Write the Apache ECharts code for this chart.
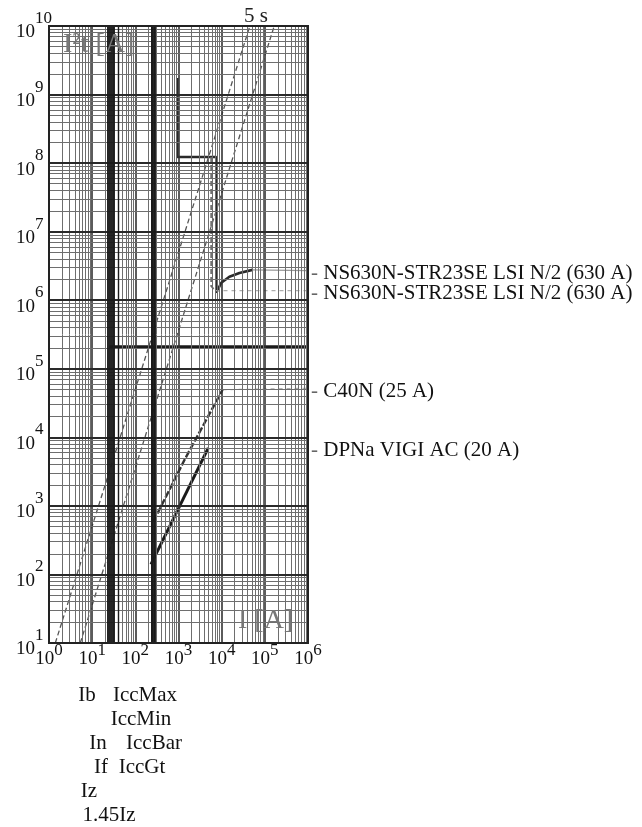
<!DOCTYPE html>
<html><head><meta charset="utf-8">
<script src="https://cdn.jsdelivr.net/npm/echarts@6/dist/echarts.min.js"></script>
<style>html,body{margin:0;padding:0;background:#fff}#c{width:642px;height:827px}</style>
</head><body><div id="c"></div>
<script>
// ---- axis ranges ----
const xMin = 1, xMax = 1e6, yMin = 10, yMax = 1e10;
// ---- constant-time I²t lines (5 s and fast line) ----
const line5sI = [1.4, 45000];
const line5sE = [10, 1e10];
const lineFastI = [5.3, 165000];
const lineFastE = [10, 1e10];
// ---- vertical reference currents ----
const refNamesLow = ['Ib', 'In', 'If', 'Iz', '1.45Iz'];
const refValsLow = [23, 25, 31, 28, 40.6];
const refNamesHigh = ['IccMax', 'IccMin', 'IccBar', 'IccGt'];
const refValsHigh = [262, 235, 275, 245];
// ---- cable k²S² ----
const cableI = [25, 1e6];
const cableE = [2.1e5, 2.1e5];
// ---- NS630N curve 1 ----
const ns1I = [940, 940, 7500, 7500, 9800, 15100, 25800, 51500, 1e6];
const ns1E = [1.74e9, 1.23e8, 1.23e8, 1.29e6, 1.8e6, 2.2e6, 2.5e6, 2.77e6, 2.7e6];
// ---- NS630N curve 2 ----
const ns2I = [5700, 5700, 7200, 1e6];
const ns2E = [1.23e8, 1.6e6, 1.38e6, 1.38e6];
// ---- C40N (25 A) ----
const c40I = [262, 1380, 10500, 1e6];
const c40E = [590, 4700, 49500, 52000];
// ---- DPNa VIGI AC (20 A) ----
const dpI = [230, 4900];
const dpE = [140, 7000];
// ---- names ----
const curveNames = ['NS630N-STR23SE LSI N/2 (630 A)', 'NS630N-STR23SE LSI N/2 (630 A)', 'C40N (25 A)', 'DPNa VIGI AC (20 A)'];
const bottomText = ['Ib', 'IccMax', 'IccMin', 'In', 'IccBar', 'If', 'IccGt', 'Iz', '1.45Iz'];
const bottomX = [87, 145, 141, 98, 154, 101, 142, 89, 109];
const bottomY = [695, 695, 719, 743, 743, 767, 767, 791, 815];

const FONT = '"Liberation Serif", "Times New Roman", serif';
function zip(a, b) { return a.map((v, i) => [v, b[i]]); }
function supLabel(v) { const e = Math.round(Math.log10(v)); return '{b|10}{e|' + e + '}'; }

const vGrid = [], hGrid = [];
for (let k = 0; k < 6; k++) for (let m = 1; m <= 9; m++) { const v = m * Math.pow(10, k); if (v > xMin && v < xMax) vGrid.push({ v: v, major: m === 1 }); }
for (let k = 1; k < 10; k++) for (let m = 1; m <= 9; m++) { const v = m * Math.pow(10, k); if (v > yMin && v < yMax) hGrid.push({ v: v, major: m === 1 }); }

const gridLines = vGrid.map(g => ({ xAxis: g.v, lineStyle: { color: g.major ? '#333' : '#6e6e6e', width: g.major ? 1.6 : 1, type: 'solid' } }))
  .concat(hGrid.map(g => ({ yAxis: g.v, lineStyle: { color: g.major ? '#2a2a2a' : '#6e6e6e', width: g.major ? 2 : 1, type: 'solid' } })));
const refLines = refValsLow.map((v, i) => ({ xAxis: v, lineStyle: { color: '#1a1a1a', width: i === 4 ? 1.4 : 1.9, type: 'solid' } }))
  .concat(refValsHigh.map(v => ({ xAxis: v, lineStyle: { color: '#1a1a1a', width: 1.9, type: 'solid' } })));

const labelPts = [ns1E, ns2E, c40E, dpE].map((arr, i) => ({ value: [xMax, arr[arr.length - 1]], name: curveNames[i] }));

function lineSeries(data, color, width, type, z) {
  return { type: 'line', data: data, showSymbol: false, symbol: 'none', silent: true, animation: false, z: z || 3,
    lineStyle: { color: color, width: width, type: type || 'solid' } };
}

const chart = echarts.init(document.getElementById('c'), null, { renderer: 'canvas' });
chart.setOption({
  backgroundColor: '#fff',
  animation: false,
  textStyle: { fontFamily: FONT },
  grid: { left: 49, top: 26, width: 259, height: 617, show: true, borderColor: '#222', borderWidth: 2, backgroundColor: 'transparent', z: 10 },
  xAxis: {
    type: 'log', logBase: 10, min: xMin, max: xMax, splitNumber: 6,
    axisLine: { show: false }, axisTick: { show: false }, splitLine: { show: false },
    axisLabel: { formatter: supLabel, margin: -1, color: '#111', fontFamily: FONT,
      rich: { b: { fontSize: 19, fontFamily: FONT, color: '#111', lineHeight: 27, verticalAlign: 'bottom' },
              e: { fontSize: 17, fontFamily: FONT, color: '#111', verticalAlign: 'top' } } }
  },
  yAxis: {
    type: 'log', logBase: 10, min: yMin, max: yMax, splitNumber: 9,
    axisLine: { show: false }, axisTick: { show: false }, splitLine: { show: false },
    axisLabel: { formatter: supLabel, margin: 33, align: 'left', color: '#111', fontFamily: FONT,
      rich: { b: { fontSize: 19, fontFamily: FONT, color: '#111', lineHeight: 32, verticalAlign: 'bottom' },
              e: { fontSize: 17, fontFamily: FONT, color: '#111', verticalAlign: 'top' } } }
  },
  series: [
    { type: 'line', data: [], silent: true, z: 1,
      markLine: { silent: true, symbol: ['none', 'none'], label: { show: false }, animation: false, data: gridLines } },
    { type: 'line', data: [], silent: true, z: 2,
      markLine: { silent: true, symbol: ['none', 'none'], label: { show: false }, animation: false, data: refLines } },
    lineSeries(zip(line5sI, line5sE), '#555', 1.3, [5, 3]),
    lineSeries(zip(lineFastI, lineFastE), '#555', 1.3, [5, 3]),
    lineSeries(zip(cableI, cableE), '#1a1a1a', 2.8, 'solid'),
    lineSeries(zip(ns1I, ns1E).slice(0, ns1I.length - 1), '#2a2a2a', 2.6, 'solid', 4),
    lineSeries(zip(ns1I, ns1E).slice(ns1I.length - 2), '#999', 1.3, 'solid', 4),
    lineSeries(zip(ns2I, ns2E).slice(0, ns2I.length - 1), '#666', 1.6, [5, 3], 4),
    lineSeries(zip(ns2I, ns2E).slice(ns2I.length - 2), '#aaa', 1.2, [4, 4], 4),
    lineSeries(zip(c40I, c40E).slice(0, c40I.length - 1), '#333', 2.4, [7, 2], 4),
    lineSeries(zip(c40I, c40E).slice(c40I.length - 2), '#aaa', 1.2, [4, 4], 4),
    lineSeries(zip(dpI, dpE), '#1a1a1a', 3, 'solid', 4),
    { type: 'scatter', data: labelPts, symbolSize: 0, clip: false, silent: true, z: 5,
      itemStyle: { opacity: 1 },
      label: { show: true, position: 'right', distance: 3, offset: [0, 3], color: '#111', opacity: 1,
        formatter: p => '{d|-}{t| ' + p.name + '}',
        rich: { d: { color: '#666', fontSize: 21, fontFamily: FONT },
                t: { color: '#111', fontSize: 21, fontFamily: FONT } } } }
  ],
  graphic: [
    { type: 'text', left: 63, top: 31, z: 20, style: { text: 'I²t [A]', font: '28px ' + FONT, fill: '#777' } },
    { type: 'text', left: 238, top: 607, z: 20, style: { text: 'I [A]', font: '28px ' + FONT, fill: '#777' } },
    { type: 'text', x: 256, y: 16, z: 20, style: { text: '5 s', font: '21px ' + FONT, fill: '#222', align: 'center', verticalAlign: 'middle' } }
  ].concat(bottomText.map((t, i) => ({ type: 'text', x: bottomX[i], y: bottomY[i], z: 20,
      style: { text: t, font: '21px ' + FONT, fill: '#111', align: 'center', verticalAlign: 'middle' } })))
});
</script></body></html>
